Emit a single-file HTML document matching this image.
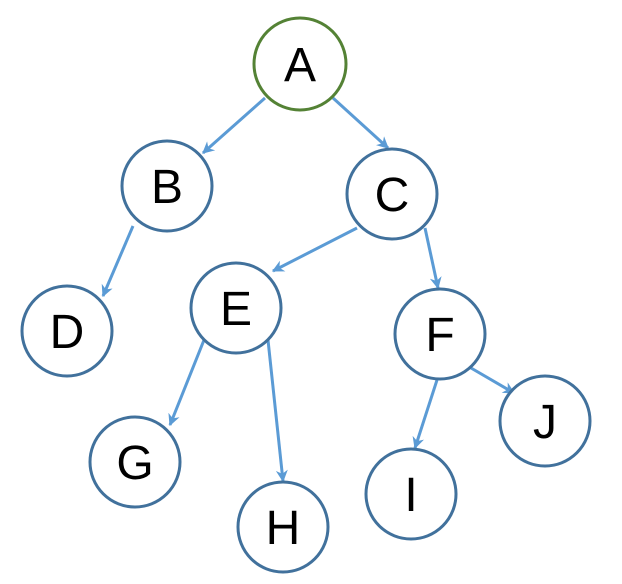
<!DOCTYPE html>
<html><head><style>body{margin:0;background:#fff}svg{display:block}</style></head><body>
<svg width="622" height="584" viewBox="0 0 622 584" xmlns="http://www.w3.org/2000/svg">
<defs><marker id="ar" viewBox="0 0 10 10" refX="9" refY="5" markerWidth="4" markerHeight="4" orient="auto"><path d="M0,0 L10,5 L0,10 L3,5 z" fill="#5b9bd5"/></marker></defs>
<g stroke="#5b9bd5" stroke-width="3" marker-end="url(#ar)">
<line x1="265" y1="98" x2="203" y2="153"/>
<line x1="333" y1="98" x2="388" y2="148"/>
<line x1="133" y1="226" x2="103" y2="296"/>
<line x1="357" y1="228" x2="273" y2="271"/>
<line x1="425" y1="228" x2="438" y2="288"/>
<line x1="204" y1="340" x2="170" y2="425"/>
<line x1="268" y1="340" x2="283" y2="481"/>
<line x1="437" y1="380" x2="415" y2="448"/>
<line x1="471" y1="368" x2="514" y2="393"/>
</g>
<g fill="#fff" stroke="#41719c" stroke-width="3">
<circle cx="300" cy="64" r="46" stroke="#548235"/>
<circle cx="167" cy="186" r="45"/>
<circle cx="392" cy="194" r="45"/>
<circle cx="67" cy="331" r="45"/>
<circle cx="236" cy="308" r="45"/>
<circle cx="440" cy="334" r="45"/>
<circle cx="135" cy="462" r="45"/>
<circle cx="283" cy="527" r="45"/>
<circle cx="411" cy="494" r="45"/>
<circle cx="545" cy="421" r="45"/>
</g>
<g font-family="Liberation Sans, sans-serif" font-size="48" text-anchor="middle" fill="#000">
<text x="300" y="81">A</text>
<text x="167" y="203">B</text>
<text x="392" y="211">C</text>
<text x="67" y="348">D</text>
<text x="236" y="325">E</text>
<text x="440" y="351">F</text>
<text x="135" y="479">G</text>
<text x="283" y="544">H</text>
<text x="411" y="511">I</text>
<text x="545" y="438">J</text>
</g>
</svg>
</body></html>
